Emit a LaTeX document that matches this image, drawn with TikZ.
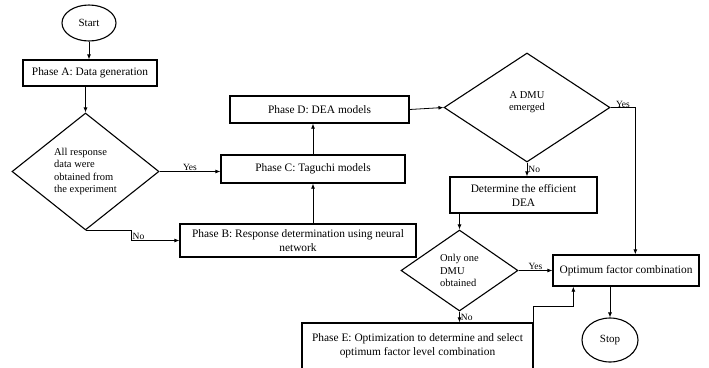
\documentclass[tikz,border=0pt]{standalone}
\usepackage{fontspec}
\setmainfont{Liberation Serif}
\usetikzlibrary{shapes.geometric,arrows.meta,calc}
\begin{document}
\begin{tikzpicture}[x=1pt,y=-1pt,
  box/.style={draw,line width=1.3pt,inner sep=0pt,align=center,font=\fontsize{11.4}{14}\selectfont},
  dec/.style={draw,diamond,line width=1.1pt,inner sep=0pt,align=left,font=\fontsize{10.5}{12.5}\selectfont},
  term/.style={draw,ellipse,line width=1.1pt,inner sep=0pt,font=\fontsize{11}{12}\selectfont},
  arr/.style={-{Latex[length=5pt,width=4pt]},line width=0.8pt},
  lbl/.style={font=\fontsize{9.5}{10}\selectfont,inner sep=1pt}]
\useasboundingbox (0,0) rectangle (709,367);
\node[term,minimum width=54,minimum height=36] (start) at (89,23) {Start};
\node[box,minimum width=134,minimum height=26] (A) at (90,73) {Phase A: Data generation};
\node[dec,minimum width=147,minimum height=117] (d1) at (85.5,171.5) {All response\\data were\\obtained from\\the experiment};
\node[box,minimum width=184,minimum height=28] (C) at (313,169) {Phase C: Taguchi models};
\node[box,minimum width=179,minimum height=27] (D) at (319.5,109.5) {Phase D: DEA models};
\node[box,minimum width=236,minimum height=33] (B) at (298,240.5) {Phase B: Response determination using neural\\network};
\node[dec,minimum width=166,minimum height=109,align=center] (d2) at (527,107.5) {A DMU\\emerged\\\mbox{}};
\node[box,minimum width=147,minimum height=36] (det) at (523.5,195) {Determine the efficient\\DEA};
\node[dec,minimum width=117,minimum height=81] (d3) at (459.5,270.5) {Only one\\DMU\\obtained};
\node[box,minimum width=146,minimum height=31] (opt) at (626,270.5) {Optimum factor combination};
\node[box,minimum width=231,minimum height=46] (E) at (417.5,346) {Phase E: Optimization to determine and select\\optimum factor level combination};
\node[term,minimum width=56,minimum height=44] (stop) at (610,340) {Stop};
\coordinate (ycol) at ($(opt.north west)+(83,0)$);
\coordinate (ein) at ($(opt.south west)+(21,0)$);
\coordinate (nc) at ($(d1.south)+(46,0)$);
% connectors
\draw[arr] (start.south) -- (start.south |- A.north);
\draw[arr] (A.south -| d1.north) -- (d1.north);
\draw[arr] (d1.east) -- (d1.east -| C.west) node[lbl,midway,above] {Yes};
\draw[arr] (d1.south) -- (nc) |- (B.west);
\node[lbl,anchor=south west] (nolbl) at (nc |- B.west) {No};
\draw[arr] (B.north -| C.south) -- (C.south);
\draw[arr] (C.north) -- (C.north |- D.south);
\draw[arr] (D.east) -- (d2.west);
\draw[arr] (d2.east) -| (ycol) node[lbl,pos=0.25,above,yshift=-1pt] {Yes};
\draw[arr] (d2.south) -- (d2.south |- det.north) node[lbl,midway,right] {No};
\draw[arr] (det.south -| d3.north) -- (d3.north);
\draw[arr] (d3.east) -- (d3.east -| opt.west) node[lbl,midway,above] {Yes};
\draw[arr] (d3.south) -- (d3.south |- E.north) node[lbl,midway,right] {No};
\draw[arr] (E.north east) -- ++(0,-16) -| (ein);
\draw[arr] (stop.north |- opt.south) -- (stop.north);
\end{tikzpicture}
\end{document}
